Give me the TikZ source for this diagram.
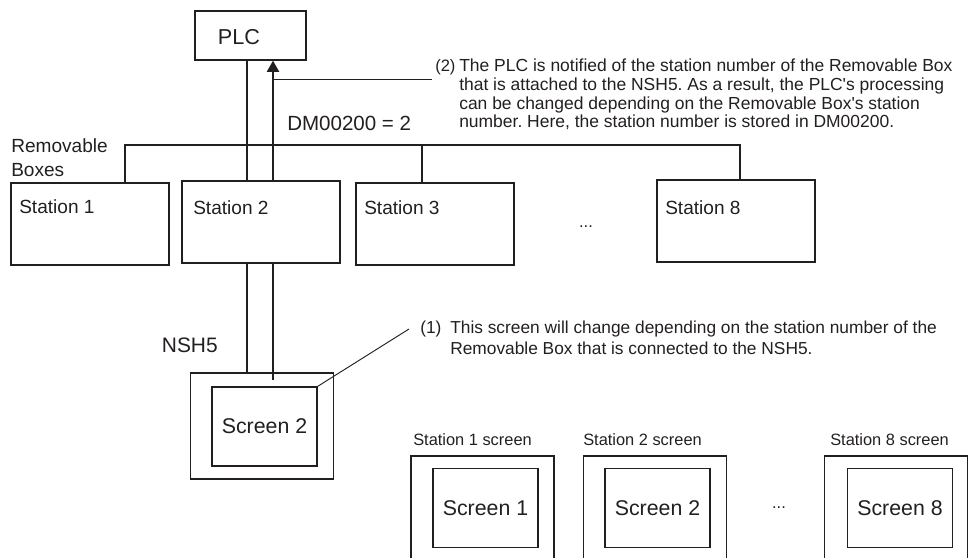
\documentclass[tikz,border=0pt]{standalone}
\usepackage{fontspec}
\setmainfont{Liberation Sans}
\usetikzlibrary{arrows.meta}
\definecolor{ink}{RGB}{35,31,32}
\frenchspacing

\begin{document}
\begin{tikzpicture}[x=0.75pt,y={(0pt,-0.75pt)},color=ink,
    box/.style={draw,line width=0.9pt,inner sep=0pt},
    stbox/.style={box,minimum width=118.5pt,minimum height=61.5pt},
    frame/.style={box,minimum width=107.25pt,minimum height=79.5pt},
    scr/.style={box,minimum width=78.75pt,minimum height=59.25pt,
      font=\fontsize{16pt}{18pt}\selectfont},
    big/.style={inner sep=0pt,font=\fontsize{14.3pt}{18pt}\selectfont},
    note/.style={inner sep=0pt,align=left,anchor=north west,
      font=\fontsize{13pt}{14pt}\selectfont},
    small/.style={inner sep=0pt,anchor=west,font=\fontsize{12.3pt}{14pt}\selectfont},
    wire/.style={line width=0.9pt},
    bus/.style={line width=1.3pt},
    data/.style={line width=1.8pt},
    lead/.style={line width=0.7pt}]
  \clip (0,0) rectangle (970,557);

  % PLC and the stations
  \node[box,minimum width=83.25pt,minimum height=36.75pt] (PLC) at (250.5,35.5) {};
  \node[inner sep=0pt,font=\fontsize{16.2pt}{18pt}\selectfont] at (239,37) {PLC};
  \node[big,anchor=north west,align=left] (RB) at (11,138) {Removable\\Boxes};

  \node[stbox] (S1) at (90,224) {};
  \node[stbox] (S2) at (261,222) {};
  \node[stbox] (S3) at (435,224) {};
  \node[stbox] (S8) at (736,221) {};
  \node[big,anchor=west] (L1) at (19,207) {Station 1};
  \node[big,anchor=west] (L2) at (193,208) {Station 2};
  \node[big,anchor=west] (L3) at (364,208) {Station 3};
  \node[big,anchor=west] (L8) at (665,208) {Station 8};
  \node[small,anchor=center] (D1) at (586,227) {...};

  % NSH5
  \node[frame] (NSH) at (262,426) {};
  \node[scr] (SC) at (264.5,426.5) {Screen 2};
  \node[inner sep=0pt,anchor=east,font=\fontsize{15.7pt}{18pt}\selectfont] (NL) at (218,345) {NSH5};

  % screens of the stations
  \node[frame] (F1) at (482.5,509) {};
  \node[scr] (C1) at (485.5,508) {Screen 1};
  \node[frame] (F2) at (655,509) {};
  \node[scr] (C2) at (657.5,508) {Screen 2};
  \node[frame] (F8) at (896,509) {};
  \node[scr] (C8) at (900,508) {Screen 8};
  \node[small] (T1) at (413,440) {Station 1 screen};
  \node[small] (T2) at (583,440) {Station 2 screen};
  \node[small] (T8) at (830,440) {Station 8 screen};
  \node[small,anchor=center] (D2) at (779,508) {...};

  % wiring
  \coordinate (b1) at (125,145);
  \coordinate (b3) at (422,145);
  \coordinate (b8) at (740,145);
  \coordinate (thin) at (247,145);
  \coordinate (thick) at (273,380);
  \draw[bus] (S1.north -| b1) |- (b8) -- (b8 |- S8.north);
  \draw[bus] (b3) -- (b3 |- S3.north);
  \draw[wire] (PLC.south -| thin) -- (S2.north -| thin);
  \draw[wire] (S2.south -| thin) -- (NSH.north -| thin);
  \draw[data] (thick) -- (thick |- S2.south);
  \draw[data,-{Triangle[width=9pt,length=8.5pt]}] (S2.north -| thick) -- (PLC.south -| thick);
  \node[inner sep=0pt,anchor=west,font=\fontsize{15.4pt}{18pt}\selectfont] (DM) at (287,123) {DM00200 = 2};

  % notes
  \coordinate (n2) at (432,79);
  \coordinate (n1) at (409,329);
  \draw[lead] (n2 -| thick) -- (n2);
  \draw[lead] (SC.north east) -- (n1);
  \node[note,font=\fontsize{12.4pt}{14pt}\selectfont] (N2a) at (435,59) {(2)};
  \node[note,font=\fontsize{13.1pt}{14pt}\selectfont] (N2b) at (459,59)
    {The PLC is notified of the station number of the Removable Box\\
     that is attached to the NSH5. As a result, the PLC\textquotesingle s processing\\
     can be changed depending on the Removable Box\textquotesingle s station\\
     number. Here, the station number is stored in DM00200.};
  \node[note] (N1a) at (420,321) {(1)};
  \node[note,font=\fontsize{13pt}{15.75pt}\selectfont] (N1b) at (450,321)
    {This screen will change depending on the station number of the\\
     Removable Box that is connected to the NSH5.};
\end{tikzpicture}
\end{document}
